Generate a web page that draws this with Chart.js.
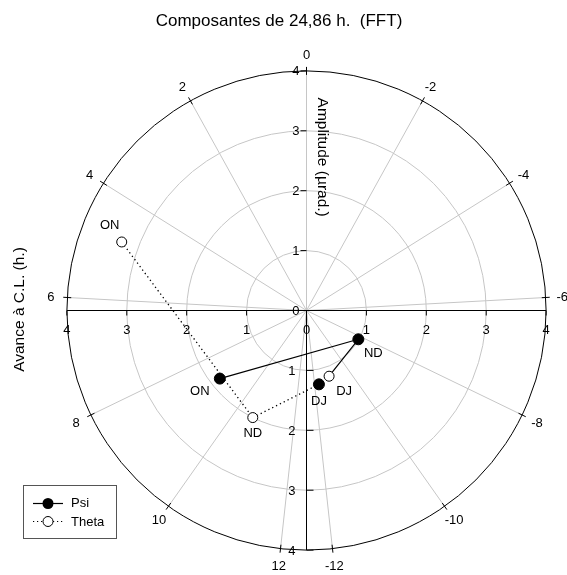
<!DOCTYPE html>
<html>
<head>
<meta charset="utf-8">
<script src="https://cdn.jsdelivr.net/npm/chart.js@4.4.1/dist/chart.umd.min.js"></script>
<style>
  html, body { margin: 0; padding: 0; background: #ffffff; }
  #c { display: block; }
</style>
</head>
<body>
<canvas id="c" width="567" height="575"></canvas>
<script>
// ---- data (amplitude in µrad, phase = advance on C.L. in hours) ----
const categories = ['ON', 'ND', 'DJ'];
const psiAmplitude = [1.84, 0.99, 1.25];
const psiPhase = [8.85, -8.22, -11.77];
const thetaAmplitude = [3.29, 2.00, 1.16];
const thetaPhase = [4.81, 10.59, -11.12];
const period = 24.86;
const hourTicks = [0, 2, 4, 6, 8, 10, 12, -2, -4, -6, -8, -10, -12];
const amplitudeTicks = [0, 1, 2, 3, 4];
const crossTicks = [-4, -3, -2, -1, 0, 1, 2, 3, 4];

// ---- styling (positions of the annotation labels, in px, relative to the marker) ----
const psiLabelOffsets = [[-20, 13], [15, 14], [0, 17]];
const thetaLabelOffsets = [[-12, -17], [0, 16], [15, 15]];
const FONT = '"Liberation Sans", Arial, Helvetica, sans-serif';

function toXY(r, h) {
  const a = h / period * 2 * Math.PI;
  return { x: -r * Math.sin(a), y: r * Math.cos(a) };
}
const psiPts = psiAmplitude.map((r, i) => toXY(r, psiPhase[i]));
const thetaPts = thetaAmplitude.map((r, i) => toXY(r, thetaPhase[i]));
// connecting lines as drawn in the original figure
const psiLine = [psiPts[0], psiPts[1], thetaPts[2]];
const thetaLine = [thetaPts[0], thetaPts[1], psiPts[2]];

const polarPlugin = {
  id: 'polarGrid',
  beforeDatasetsDraw(chart) {
    const ctx = chart.ctx, xs = chart.scales.x, ys = chart.scales.y;
    const cx = xs.getPixelForValue(0), cy = ys.getPixelForValue(0);
    const k = xs.getPixelForValue(1) - cx;
    const rMax = amplitudeTicks[amplitudeTicks.length - 1];
    const R = rMax * k;
    ctx.save();
    // gray rings
    ctx.strokeStyle = '#c6c6c6';
    ctx.lineWidth = 1;
    amplitudeTicks.slice(1, -1).forEach(r => {
      ctx.beginPath(); ctx.arc(cx, cy, r * k, 0, 2 * Math.PI); ctx.stroke();
    });
    // gray spokes
    hourTicks.forEach(h => {
      const p = toXY(rMax, h);
      ctx.beginPath();
      ctx.moveTo(cx, cy);
      ctx.lineTo(xs.getPixelForValue(p.x), ys.getPixelForValue(p.y));
      ctx.stroke();
    });
    // outer ring
    ctx.strokeStyle = '#000';
    ctx.beginPath(); ctx.arc(cx, cy, R, 0, 2 * Math.PI); ctx.stroke();
    // angular ticks + labels
    ctx.fillStyle = '#000';
    ctx.font = '13px ' + FONT;
    ctx.textAlign = 'center';
    ctx.textBaseline = 'middle';
    hourTicks.forEach(h => {
      const a = h / period * 2 * Math.PI;
      const ux = -Math.sin(a), uy = -Math.cos(a);
      ctx.beginPath();
      ctx.moveTo(cx + ux * (R - 4), cy + uy * (R - 4));
      ctx.lineTo(cx + ux * (R + 4), cy + uy * (R + 4));
      ctx.stroke();
      ctx.fillText(String(h), cx + ux * (R + 16.5), cy + uy * (R + 16.5) + 1);
    });
    // horizontal axis
    ctx.beginPath();
    ctx.moveTo(xs.getPixelForValue(-rMax), cy);
    ctx.lineTo(xs.getPixelForValue(rMax), cy);
    ctx.stroke();
    crossTicks.forEach(v => {
      const x = xs.getPixelForValue(v);
      ctx.beginPath(); ctx.moveTo(x, cy); ctx.lineTo(x, cy + 5); ctx.stroke();
      ctx.fillText(String(Math.abs(v)), x, cy + 20);
    });
    // lower vertical axis (black), ticks to the right, labels left
    ctx.beginPath();
    ctx.moveTo(cx, cy); ctx.lineTo(cx, ys.getPixelForValue(-rMax)); ctx.stroke();
    ctx.textAlign = 'right';
    amplitudeTicks.slice(1).forEach(v => {
      const y = ys.getPixelForValue(-v);
      ctx.beginPath(); ctx.moveTo(cx, y); ctx.lineTo(cx + 7, y); ctx.stroke();
      ctx.fillText(String(v), cx - 11, y + 1);
    });
    // upper vertical axis ticks (left) + labels
    amplitudeTicks.forEach(v => {
      const y = ys.getPixelForValue(v);
      ctx.beginPath(); ctx.moveTo(cx - 6, y); ctx.lineTo(cx, y); ctx.stroke();
      ctx.fillText(String(v), cx - 7, y + 1);
    });
    // axis titles
    ctx.font = '15.5px ' + FONT;
    ctx.textAlign = 'center';
    ctx.save();
    ctx.translate(cx + 16, ys.getPixelForValue(2.56));
    ctx.rotate(Math.PI / 2);
    ctx.fillText('Amplitude (µrad.)', 0, 0);
    ctx.restore();
    ctx.save();
    ctx.translate(20, cy - 1);
    ctx.rotate(-Math.PI / 2);
    ctx.fillText('Avance à C.L. (h.)', 0, 0);
    ctx.restore();
    // title
    ctx.font = '17px ' + FONT;
    ctx.fillText('Composantes de 24,86 h.  (FFT)', 279, 21);
    ctx.restore();
  },
  afterDatasetsDraw(chart) {
    const ctx = chart.ctx, xs = chart.scales.x, ys = chart.scales.y;
    ctx.save();
    ctx.fillStyle = '#000';
    ctx.font = '13px ' + FONT;
    ctx.textAlign = 'center';
    ctx.textBaseline = 'middle';
    psiPts.forEach((p, i) => {
      ctx.fillText(categories[i], xs.getPixelForValue(p.x) + psiLabelOffsets[i][0],
        ys.getPixelForValue(p.y) + psiLabelOffsets[i][1]);
    });
    thetaPts.forEach((p, i) => {
      ctx.fillText(categories[i], xs.getPixelForValue(p.x) + thetaLabelOffsets[i][0],
        ys.getPixelForValue(p.y) + thetaLabelOffsets[i][1]);
    });
    // legend box
    ctx.strokeStyle = '#555';
    ctx.lineWidth = 1;
    ctx.strokeRect(23.5, 485.5, 93, 53);
    ctx.strokeStyle = '#000';
    // Psi
    ctx.beginPath(); ctx.moveTo(33, 503.5); ctx.lineTo(63, 503.5); ctx.lineWidth = 1.2; ctx.stroke();
    ctx.beginPath(); ctx.arc(48, 503.5, 5.5, 0, 2 * Math.PI); ctx.fillStyle = '#000'; ctx.fill();
    // Theta
    ctx.setLineDash([1.2, 2.8]);
    ctx.beginPath(); ctx.moveTo(33, 521.5); ctx.lineTo(63, 521.5); ctx.stroke();
    ctx.setLineDash([]);
    ctx.beginPath(); ctx.arc(48, 521.5, 5, 0, 2 * Math.PI);
    ctx.fillStyle = '#fff'; ctx.fill(); ctx.lineWidth = 1; ctx.stroke();
    ctx.fillStyle = '#000';
    ctx.textAlign = 'left';
    ctx.font = '13px ' + FONT;
    ctx.fillText('Psi', 71, 503.5);
    ctx.fillText('Theta', 71, 522);
    ctx.restore();
  }
};

new Chart(document.getElementById('c'), {
  type: 'scatter',
  data: {
    datasets: [
      { label: 'Psi', data: psiPts, showLine: false, pointRadius: 5.5,
        pointBackgroundColor: '#000', pointBorderColor: '#000', pointBorderWidth: 1, order: 0 },
      { label: 'Theta', data: thetaPts, showLine: false, pointRadius: 5,
        pointBackgroundColor: '#fff', pointBorderColor: '#000', pointBorderWidth: 1, order: 1 },
      { label: 'Psi line', data: psiLine, showLine: true, pointRadius: 0,
        borderColor: '#000', borderWidth: 1.2, order: 2 },
      { label: 'Theta line', data: thetaLine, showLine: true, pointRadius: 0,
        borderColor: '#000', borderWidth: 1.3, borderDash: [1.3, 3], order: 3 }
    ]
  },
  options: {
    responsive: false,
    devicePixelRatio: 1,
    animation: false,
    layout: { padding: { left: 66.9, right: 20.9, top: 70.9, bottom: 24.9 } },
    scales: {
      x: { type: 'linear', min: -4, max: 4, display: false },
      y: { type: 'linear', min: -4, max: 4, display: false }
    },
    plugins: { legend: { display: false }, tooltip: { enabled: false }, title: { display: false } }
  },
  plugins: [polarPlugin]
});
</script>
</body>
</html>
